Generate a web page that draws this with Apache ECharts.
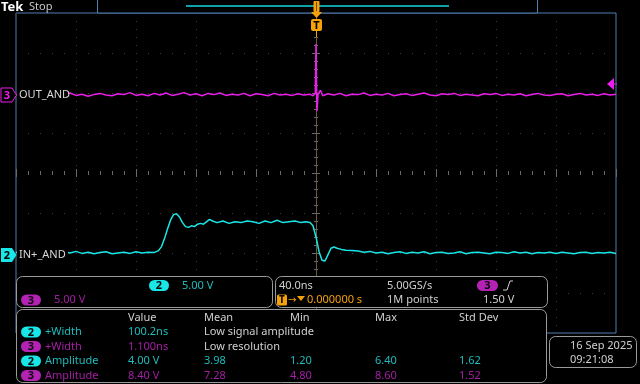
<!DOCTYPE html>
<html><head><meta charset="utf-8">
<script src="https://cdn.jsdelivr.net/npm/echarts@6/dist/echarts.min.js"></script>
<style>html,body{margin:0;padding:0;background:#000;}#c{width:640px;height:384px;}</style>
</head><body><div id="c"></div>
<script>
// ---- data (time in ns, voltage in V) ----
const ch2Label = 'IN+_AND';
const ch3Label = 'OUT_AND';
const ch2Times = [-200,-196,-192,-188,-184,-180,-176,-172,-168,-164,-160,-156,-152,-148,-144,-140,-136,-132,-128,-124,-120,-116,-112,-108,
  -105,-103,-101,-99,-97,-95,-93,-91,-89,-87,-85,-83,-81,-79,-77,-75,-73,-71,-69,-66,-62,-58,-54,-50,-46,-42,-38,-34,-30,-26,-22,-18,-14,-10,-7,-4,
  -2,0,2,4,5,6,8,10,12,14,17,20,24,28,32,36,40,44,48,52,56,60,64,68,72,76,80,84,88,92,96,100,104,108,112,116,120,124,128,132,136,140,144,148,152,156,160,164,168,172,176,180,184,188,192,196,200];
const ch2Volts = [0.1,-0.1,0.2,0.0,-0.15,0.1,0.05,-0.1,0.15,0.0,0.2,-0.05,0.1,-0.1,0.05,0.15,-0.1,0.0,0.1,-0.05,0.15,0.0,0.1,0.05,
  0.3,0.8,1.8,3.0,4.1,4.8,4.9,4.5,3.8,3.3,3.2,3.4,3.3,3.6,3.7,3.6,3.9,4.2,4.0,3.8,4.0,3.7,3.9,3.8,4.0,3.9,3.7,4.0,3.8,4.1,3.8,3.9,4.0,3.8,3.9,3.8,
  3.4,2.0,0.2,-0.9,-1.1,-1.0,-0.2,0.6,0.75,0.6,0.45,0.35,0.3,0.25,0.1,0.2,0.0,0.1,-0.1,0.05,0.15,-0.05,0.1,0.0,0.15,-0.1,0.05,0.1,-0.05,0.0,0.15,-0.1,0.05,0.1,0.0,-0.1,0.1,0.05,-0.05,0.15,0.0,0.1,-0.1,0.05,0.0,0.1,-0.05,0.1,0.0,-0.1,0.05,0.1,-0.05,0.05,0.0,0.1,-0.05];
const ch3Times = [-200,-196,-192,-188,-184,-180,-176,-172,-168,-164,-160,-156,-152,-148,-144,-140,-136,-132,-128,-124,-120,-116,-112,-108,-104,-100,-96,-92,-88,-84,-80,-76,-72,-68,-64,-60,-56,-52,-48,-44,-40,-36,-32,-28,-24,-20,-16,-12,-8,-4,
  -2,-0.5,0,0.6,1.4,3,4.5,
  8,12,16,20,24,28,32,36,40,44,48,52,56,60,64,68,72,76,80,84,88,92,96,100,104,108,112,116,120,124,128,132,136,140,144,148,152,156,160,164,168,172,176,180,184,188,192,196,200];
const ch3Volts = [0.05,-0.1,0.15,0.0,-0.15,0.2,0.05,-0.1,0.1,0.25,-0.05,0.1,-0.15,0.05,0.2,0.0,-0.1,0.15,0.05,0.3,-0.05,0.1,-0.1,0.2,0.0,0.25,-0.05,0.1,0.3,0.0,0.15,-0.1,0.2,0.05,0.25,-0.05,0.1,0.0,0.2,-0.1,0.15,0.05,-0.1,0.2,0.0,0.1,-0.05,0.15,0.0,0.1,
  -0.1,0.2,6.4,-2.0,0.1,0.6,-0.1,
  0.15,0.0,0.2,-0.1,0.1,0.05,0.25,-0.05,0.1,0.0,0.2,-0.1,0.05,0.15,-0.05,0.1,0.25,0.0,-0.1,0.15,0.05,0.2,-0.05,0.1,0.0,-0.1,0.15,0.05,0.2,-0.05,0.1,0.0,0.15,-0.1,0.05,0.2,0.0,-0.05,0.1,0.15,-0.1,0.05,0.2,0.0,0.1,-0.05,0.15,0.0,0.1];
const ch2VoltsPerDiv = 5, ch3VoltsPerDiv = 5;
const ch2OffsetDiv = -2.0, ch3OffsetDiv = 1.95;
const timeRange = [-200, 200], timePerDiv = 40;
const divRange = [-4, 4];

// readouts
const chScaleText = ['5.00 V', '5.00 V'];
const horizText = ['40.0ns', '5.00GS/s', '1M points', '0.000000 s'];
const trigLevelText = '1.50 V';
const measHeaders = ['Value', 'Mean', 'Min', 'Max', 'Std Dev'];
const measChannels = ['2', '3', '2', '3'];
const measNames = ['+Width', '+Width', 'Amplitude', 'Amplitude'];
const measValue = ['100.2ns', '1.100ns', '4.00 V', '8.40 V'];
const measMean = ['Low signal amplitude', 'Low resolution', '3.98', '7.28'];
const measMin = ['', '', '1.20', '4.80'];
const measMax = ['', '', '6.40', '8.60'];
const measStd = ['', '', '1.62', '1.52'];
const dateText = ['16 Sep 2025', '09:21:08'];

// ---- styling ----
const CYAN = '#19e6e6', MAG = '#ea1fea', CYAN_T = '#1ebcbc', MAG_T = '#a51ea5', MAG_P = '#b422b4';
const ORANGE = '#f5a10a', BLUE = '#4f7fb0', GRAY_T = '#d0d0d0', PANEL = '#9a9a9a';
const FONT = '"Noto Sans", "DejaVu Sans", sans-serif';
const f = (s, w) => (w || 'normal') + ' ' + s + 'px ' + FONT;

function txt(x, y, s, fill, size, align, weight) {
  return {type: 'text', z: 110, style: {x: x, y: y, text: s, fill: fill, font: f(size || 11, weight), align: align || 'left', verticalAlign: 'middle'}};
}
function pill(x, y, w, h, color, label) {
  return [
    {type: 'rect', z: 105, shape: {x: x, y: y, width: w, height: h, r: h / 2}, style: {fill: color}},
    txt(x + w / 2, y + h / 2 + 0.5, label, '#0a0a0a', 11, 'center', 'bold')
  ];
}
function panel(x, y, w, h) {
  return {type: 'rect', z: 100, shape: {x: x, y: y, width: w, height: h, r: 6}, style: {fill: '#000', stroke: PANEL, lineWidth: 1}};
}

const chart = echarts.init(document.getElementById('c'), null, {renderer: 'canvas'});
const ch2Data = ch2Times.map((t, i) => [t, ch2Volts[i] / ch2VoltsPerDiv + ch2OffsetDiv]);
const ch3Data = ch3Times.map((t, i) => [t, ch3Volts[i] / ch3VoltsPerDiv + ch3OffsetDiv]);

const tickStyle = {color: '#6a6a6a', width: 1};
const gridCol = '#3e3e3e';
function xAx(pos, showSplit) {
  return {type: 'value', position: pos, min: timeRange[0], max: timeRange[1], interval: timePerDiv,
    axisLine: {show: false}, axisLabel: {show: false},
    axisTick: {show: true, inside: true, length: 4, lineStyle: tickStyle},
    minorTick: {show: true, splitNumber: 5, length: 2, lineStyle: tickStyle},
    splitLine: {show: showSplit, lineStyle: {color: gridCol, width: 1, type: [1, 7]}},
    minorSplitLine: {show: false}};
}
function yAx(pos, showSplit) {
  return {type: 'value', position: pos, min: divRange[0], max: divRange[1], interval: 1,
    axisLine: {show: false}, axisLabel: {show: false},
    axisTick: {show: true, inside: true, length: 4, lineStyle: tickStyle},
    minorTick: {show: true, splitNumber: 5, length: 2, lineStyle: tickStyle},
    splitLine: {show: showSplit, lineStyle: {color: gridCol, width: 1, type: [1, 11]}}};
}

let g = [];
// top bar
g.push(txt(1, 7, 'Tek', '#ffffff', 13, 'left', 'bold'));
g.push(txt(29, 7, 'Stop', '#c8c8c8', 11));
g.push({type: 'rect', z: 100, shape: {x: 97.5, y: -1, width: 440, height: 14}, style: {fill: '#000', stroke: BLUE, lineWidth: 1}});
g.push({type: 'line', z: 101, shape: {x1: 186, y1: 6, x2: 449, y2: 6}, style: {stroke: '#0fa0a8', lineWidth: 2}});
// trigger position marker
g.push({type: 'rect', z: 102, shape: {x: 313.5, y: 1, width: 6, height: 11, r: 1}, style: {fill: ORANGE}});
g.push({type: 'line', z: 103, shape: {x1: 316.5, y1: 2, x2: 316.5, y2: 11}, style: {stroke: '#7a4a00', lineWidth: 1}});
g.push({type: 'polygon', z: 102, shape: {points: [[311, 12], [322, 12], [316.5, 18]]}, style: {fill: ORANGE}});
g.push({type: 'rect', z: 102, shape: {x: 311, y: 19, width: 11, height: 12, r: 2}, style: {fill: ORANGE}});
g.push(txt(316.5, 25.5, 'T', '#000', 11, 'center', 'bold'));
g.push({type: 'line', z: 102, shape: {x1: 316.5, y1: 31, x2: 316.5, y2: 37}, style: {stroke: ORANGE, lineWidth: 1}});
// channel markers + labels (black backing hides the trace under the label)
g.push({type: 'rect', z: 101, shape: {x: 17, y: 88, width: 51, height: 14}, style: {fill: '#000'}});
g.push({type: 'polygon', z: 102, shape: {points: [[1, 88], [12, 88], [16.5, 95], [12, 102], [1, 102]]}, style: {fill: '#000', stroke: MAG, lineWidth: 1}});
g.push(txt(7, 95.5, '3', MAG, 11, 'center', 'bold'));
g.push(txt(19, 95, ch3Label, '#d8d8d8', 11));
g.push({type: 'rect', z: 101, shape: {x: 17, y: 248, width: 51, height: 14}, style: {fill: '#000'}});
g.push({type: 'polygon', z: 102, shape: {points: [[1, 248], [12, 248], [16.5, 255], [12, 262], [1, 262]]}, style: {fill: CYAN}});
g.push(txt(7, 255.5, '2', '#000', 11, 'center', 'bold'));
g.push(txt(19, 255, ch2Label, '#d8d8d8', 11));
// trigger level arrow (right)
g.push({type: 'polygon', z: 102, shape: {points: [[607, 84], [614, 78], [614, 90]]}, style: {fill: MAG}});
g.push({type: 'line', z: 102, shape: {x1: 612, y1: 84, x2: 617, y2: 84}, style: {stroke: MAG, lineWidth: 1}});
// panel A: vertical scales
g.push(panel(16.5, 276.5, 256, 31));
g = g.concat(pill(149, 280, 20, 11, CYAN, '2'));
g.push(txt(182, 285.5, chScaleText[0], CYAN_T, 11));
g = g.concat(pill(21, 294.5, 20, 11, MAG_P, '3'));
g.push(txt(54, 300, chScaleText[1], MAG_T, 11));
// panel B: horizontal / trigger
g.push(panel(275.5, 276.5, 272, 31));
g.push(txt(279, 285.5, horizText[0], GRAY_T, 11));
g.push(txt(387, 285.5, horizText[1], GRAY_T, 11));
g.push(txt(387, 300, horizText[2], GRAY_T, 11));
g.push({type: 'rect', z: 105, shape: {x: 277, y: 294.5, width: 10, height: 11, r: 1.5}, style: {fill: ORANGE}});
g.push(txt(282, 300.5, 'T', '#000', 10, 'center', 'bold'));
g.push(txt(288, 300, '\u2192', ORANGE, 10));
g.push({type: 'polygon', z: 105, shape: {points: [[297, 296], [305, 296], [301, 301]]}, style: {fill: ORANGE}});
g.push(txt(307, 300, horizText[3], ORANGE, 11));
g = g.concat(pill(477, 280, 21, 11, MAG_P, '3'));
g.push({type: 'polyline', z: 105, shape: {points: [[503, 290], [507, 290], [510, 281], [513, 281]]}, style: {stroke: GRAY_T, lineWidth: 1, fill: null}});
g.push(txt(483, 300, trigLevelText, GRAY_T, 11));
// measurements panel
g.push(panel(16.5, 309.5, 530, 73));
const colX = [128, 204, 290, 375, 459];
measHeaders.forEach((h, i) => g.push(txt(colX[i], 318, h, GRAY_T, 11)));
const rowY = [332, 346.5, 361, 375.5];
measNames.forEach((n, r) => {
  const isC = measChannels[r] === '2';
  const pc = isC ? CYAN : MAG_P, tc = isC ? CYAN_T : MAG_T;
  g = g.concat(pill(21, rowY[r] - 5.5, 20, 11, pc, measChannels[r]));
  g.push(txt(45, rowY[r], n, tc, 11));
  g.push(txt(colX[0], rowY[r], measValue[r], tc, 11));
  g.push(txt(colX[1], rowY[r], measMean[r], r < 2 ? GRAY_T : tc, 11));
  g.push(txt(colX[2], rowY[r], measMin[r], tc, 11));
  g.push(txt(colX[3], rowY[r], measMax[r], tc, 11));
  g.push(txt(colX[4], rowY[r], measStd[r], tc, 11));
});
// date box
g.push(panel(549.5, 336.5, 87, 31));
g.push(txt(570, 345.5, dateText[0], GRAY_T, 11));
g.push(txt(570, 359.5, dateText[1], GRAY_T, 11));

chart.setOption({
  backgroundColor: '#000',
  animation: false,
  grid: {left: 16, top: 13, width: 600, height: 320, show: true, borderColor: BLUE, borderWidth: 1, backgroundColor: '#000'},
  xAxis: [xAx('top', true), xAx('bottom', false)],
  yAxis: [yAx('left', true), yAx('right', false)],
  series: [
    {type: 'line', data: ch3Data, showSymbol: false, symbol: 'none', lineStyle: {color: MAG, width: 1.5}, z: 5,
      markLine: {silent: true, symbol: 'none', label: {show: false}, lineStyle: {color: '#6e5c3c', width: 1, type: 'solid'}, data: [{xAxis: 0}]}},
    {type: 'line', data: ch2Data, showSymbol: false, symbol: 'none', lineStyle: {color: CYAN, width: 1.5}, z: 6}
  ],
  graphic: g
});
</script></body></html>
